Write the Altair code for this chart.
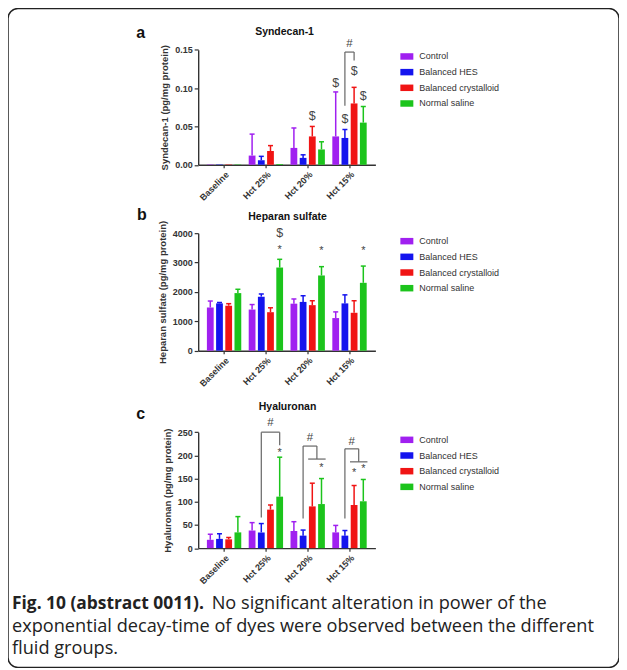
import json
import altair as alt
import pandas as pd

categories = ["Baseline", "Hct 25%", "Hct 20%", "Hct 15%"]
groups = ["Control", "Balanced HES", "Balanced crystalloid", "Normal saline"]
group_colors = ["#a020f0", "#1414ee", "#f01414", "#1cc41c"]

# Panel a: Syndecan-1 (pg/mg protein) - means and upper error
syn_control = [0.0005, 0.012, 0.022, 0.037]
syn_hes = [0.0005, 0.006, 0.009, 0.035]
syn_cryst = [0.0005, 0.018, 0.037, 0.080]
syn_saline = [0.0005, 0.001, 0.020, 0.055]
syn_control_err = [0.0, 0.028, 0.026, 0.058]
syn_hes_err = [0.0, 0.005, 0.004, 0.011]
syn_cryst_err = [0.0, 0.007, 0.013, 0.021]
syn_saline_err = [0.0, 0.0, 0.010, 0.021]

# Panel b: Heparan sulfate (pg/mg protein)
hs_control = [1470, 1400, 1600, 1110]
hs_hes = [1610, 1840, 1660, 1610]
hs_cryst = [1530, 1310, 1550, 1290]
hs_saline = [1960, 2830, 2560, 2310]
hs_control_err = [220, 170, 160, 210]
hs_hes_err = [30, 90, 210, 290]
hs_cryst_err = [70, 150, 150, 410]
hs_saline_err = [130, 280, 300, 570]

# Panel c: Hyaluronan (pg/mg protein)
hy_control = [18, 38, 37, 34]
hy_hes = [20, 34, 27, 27]
hy_cryst = [19, 83, 90, 93]
hy_saline = [34, 111, 95, 101]
hy_control_err = [12, 17, 20, 15]
hy_hes_err = [11, 19, 12, 11]
hy_cryst_err = [4, 10, 50, 42]
hy_saline_err = [34, 85, 55, 47]

# significance marks: (category, group position, symbol, value)
syn_marks = [("Hct 20%", 2, "$", 0.064), ("Hct 15%", 0, "$", 0.107),
             ("Hct 15%", 1, "$", 0.060), ("Hct 15%", 2, "$", 0.122),
             ("Hct 15%", 3, "$", 0.090), ("Hct 15%", 1.5, "#", 0.158)]
hs_marks = [("Hct 25%", 3, "$", 4000), ("Hct 25%", 3, "*", 3430),
            ("Hct 20%", 3, "*", 3380), ("Hct 15%", 3, "*", 3380)]
hy_marks = [("Hct 25%", 2, "#", 269), ("Hct 25%", 3, "*", 206),
            ("Hct 20%", 1.75, "#", 237), ("Hct 20%", 3, "*", 172),
            ("Hct 15%", 1.75, "#", 228), ("Hct 15%", 2, "*", 163),
            ("Hct 15%", 3, "*", 171)]
# brackets: (category, left pos, right pos, left bottom, top, right bottom)
syn_brackets = [("Hct 15%", 1, 2, 0.077, 0.147, 0.136)]
hs_brackets = []
hy_brackets = [("Hct 25%", 1, 3, 66, 250, 222),
               ("Hct 20%", 1, 2.5, 64, 220, 192),
               ("Hct 15%", 1, 2.5, 64, 214, 186)]
# horizontal group lines: (category, from pos, to pos, value)
hy_lines = [("Hct 20%", 1.55, 3.45, 192), ("Hct 15%", 1.55, 3.45, 186)]

W, H = 612, 660
X_RANGE = [190.5, 368.0]
STEP = 0.22
BAR_W = 0.162
CAP_W = 0.12
FONT = "Liberation Sans"
AX = "#333333"

x_scale = alt.Scale(domain=[0, 4], range=X_RANGE, nice=False, zero=False)
label_expr = json.dumps(categories) + "[floor(datum.value)]"


def xpos(cat, g):
    return categories.index(cat) + 0.5 + (g - 1.5) * STEP


def panel(series, errs, y_dom, y_rng, y_vals, y_fmt, y_title, leg_y,
          marks, brackets, lines):
    rows = []
    for gi, (g, vals, evs) in enumerate(zip(groups, series, errs)):
        for ci, cat in enumerate(categories):
            xc = xpos(cat, gi)
            rows.append({"cat": cat, "group": g, "mean": vals[ci],
                         "top": vals[ci] + evs[ci], "err": evs[ci],
                         "xc": xc, "xl": xc - BAR_W / 2, "xr": xc + BAR_W / 2,
                         "cl": xc - CAP_W / 2, "cr": xc + CAP_W / 2})
    df = pd.DataFrame(rows)
    y_scale = alt.Scale(domain=y_dom, range=y_rng, nice=False, zero=True)
    cscale = alt.Scale(domain=groups, range=group_colors)
    legend = alt.Legend(orient="none", legendX=393, legendY=leg_y, title=None,
                        symbolType="M-1,-0.5L1,-0.5L1,0.5L-1,0.5Z", symbolSize=169,
                        symbolStrokeWidth=0, labelFontSize=9, labelColor="#333",
                        labelFont=FONT, labelOffset=6, rowPadding=3.7, padding=0)
    x_axis = alt.Axis(orient="bottom", offset=y_rng[0] - H, values=[0.5, 1.5, 2.5, 3.5],
                      labelExpr=label_expr, labelAngle=-45, title=None, grid=False,
                      domainColor=AX, domainWidth=1.4, tickColor=AX, tickSize=3,
                      tickWidth=1.2, labelFontSize=9, labelFontWeight="bold",
                      labelColor=AX, labelFont=FONT, labelPadding=2)
    y_axis = alt.Axis(orient="left", offset=-X_RANGE[0], values=y_vals, format=y_fmt,
                      title=y_title, grid=False, domainColor=AX, domainWidth=1.4,
                      tickColor=AX, tickSize=4, tickWidth=1.2, labelFontSize=9,
                      labelFontWeight="bold", labelColor=AX, labelFont=FONT,
                      labelPadding=2, titleFont=FONT, titleFontSize=9.5,
                      titleFontWeight="bold", titleColor=AX, titlePadding=5)
    base = alt.Chart(df)
    bars = base.mark_bar(orient="vertical").encode(
        x=alt.X("xl:Q", scale=x_scale, axis=x_axis), x2="xr:Q",
        y=alt.Y("mean:Q", scale=y_scale, axis=y_axis), y2=alt.datum(0),
        color=alt.Color("group:N", scale=cscale, legend=legend))
    ebase = base.transform_filter("datum.err > 0")
    stems = ebase.mark_rule(strokeWidth=1.5).encode(
        x=alt.X("xc:Q", scale=x_scale, axis=None),
        y=alt.Y("mean:Q", scale=y_scale, axis=None), y2="top:Q",
        color=alt.Color("group:N", scale=cscale, legend=None))
    caps = ebase.mark_rule(strokeWidth=1.5).encode(
        x=alt.X("cl:Q", scale=x_scale, axis=None), x2="cr:Q",
        y=alt.Y("top:Q", scale=y_scale, axis=None),
        color=alt.Color("group:N", scale=cscale, legend=None))
    layers = [bars, stems, caps]

    mrows = [{"x": xpos(c, g), "y": v, "sym": s,
              "fs": {"$": 12.5, "*": 11, "#": 11.5}[s]} for c, g, s, v in marks]
    if mrows:
        layers.append(alt.Chart(pd.DataFrame(mrows)).mark_text(
            font=FONT, color="#444", baseline="middle", align="center").encode(
            x=alt.X("x:Q", scale=x_scale, axis=None),
            y=alt.Y("y:Q", scale=y_scale, axis=None),
            text="sym:N", size=alt.Size("fs:Q", scale=None)))

    segs = []
    for c, gl, gr, yl, yt, yr in brackets:
        xl, xr = xpos(c, gl), xpos(c, gr)
        segs += [{"x": xl, "x2": xl, "y": yl, "y2": yt},
                 {"x": xl, "x2": xr, "y": yt, "y2": yt},
                 {"x": xr, "x2": xr, "y": yt, "y2": yr}]
    for c, ga, gb, v in lines:
        segs.append({"x": xpos(c, ga), "x2": xpos(c, gb), "y": v, "y2": v})
    if segs:
        layers.append(alt.Chart(pd.DataFrame(segs)).mark_rule(
            color="#666", strokeWidth=1.2).encode(
            x=alt.X("x:Q", scale=x_scale, axis=None), x2="x2:Q",
            y=alt.Y("y:Q", scale=y_scale, axis=None), y2="y2:Q"))
    return layers


pa = panel([syn_control, syn_hes, syn_cryst, syn_saline],
           [syn_control_err, syn_hes_err, syn_cryst_err, syn_saline_err],
           [0, 0.15], [156.5, 41.3], [0, 0.05, 0.10, 0.15], ".2f",
           "Syndecan-1 (pg/mg protein)", 41.5, syn_marks, syn_brackets, [])
pb = panel([hs_control, hs_hes, hs_cryst, hs_saline],
           [hs_control_err, hs_hes_err, hs_cryst_err, hs_saline_err],
           [0, 4000], [342.7, 225], [0, 1000, 2000, 3000, 4000], "d",
           "Heparan sulfate (pg/mg protein)", 226.5, hs_marks, hs_brackets, [])
pc = panel([hy_control, hy_hes, hy_cryst, hy_saline],
           [hy_control_err, hy_hes_err, hy_cryst_err, hy_saline_err],
           [0, 250], [540.5, 424.3], [0, 50, 100, 150, 200, 250], "d",
           "Hyaluronan (pg/mg protein)", 425.5, hy_marks, hy_brackets, hy_lines)


def label(text, x, y, size, weight="bold", align="center", font=FONT, color="#111"):
    return alt.Chart(pd.DataFrame({"t": [text]})).mark_text(
        font=font, fontSize=size, fontWeight=weight, align=align,
        baseline="middle", color=color).encode(
        text="t:N", x=alt.value(x), y=alt.value(y))


texts = [
    label("a", 133, 25, 16), label("Syndecan-1", 277, 24, 10.5),
    label("b", 134, 207, 16), label("Heparan sulfate", 280, 209, 10.5),
    label("c", 133, 406, 16), label("Hyaluronan", 280, 399, 10.5),
]
CAP_FONT = "Open Sans"
CAP_FS = 18.2
caption = [
    label("Fig. 10 (abstract 0011).", 4, 596, 17.4, "bold", "left", CAP_FONT, "#222"),
    label("No significant alteration in power of the", 204, 596, CAP_FS, "normal", "left", CAP_FONT, "#222"),
    label("exponential decay-time of dyes were observed between the different", 4, 619, CAP_FS, "normal", "left", CAP_FONT, "#222"),
    label("fluid groups.", 4, 642, CAP_FS, "normal", "left", CAP_FONT, "#222"),
]

chart = alt.layer(*pa, *pb, *pc, *texts, *caption).resolve_scale(
    y="independent", color="independent").resolve_axis(
    x="independent", y="independent").resolve_legend(color="independent").properties(
    width=W, height=H, padding=0).configure_view(
    stroke="#222", strokeWidth=1.5, cornerRadius=10)

chart.save("out.html", embed_options={"renderer": "svg", "actions": False})
